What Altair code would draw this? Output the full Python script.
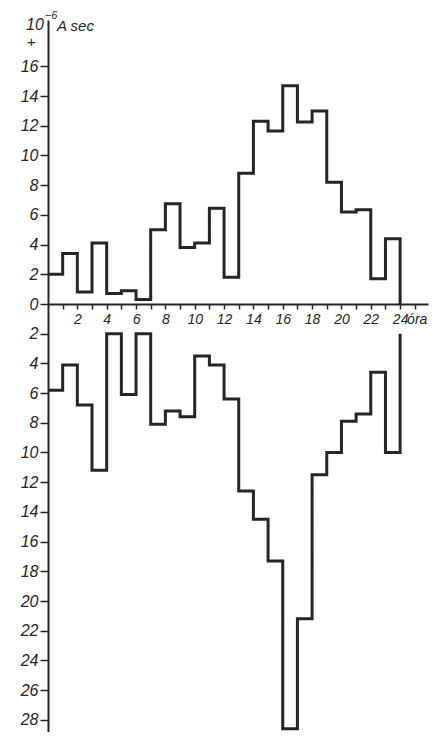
import altair as alt
import pandas as pd

# hour boundaries (step starts), last entry = closing edge at 24 h
hours = list(range(25))
# upper histogram (+), 10^-6 A sec per hour
upper = [2.0, 3.4, 0.8, 4.1, 0.7, 0.9, 0.3, 5.0, 6.75, 3.8, 4.1, 6.45,
         1.8, 8.8, 12.3, 11.65, 14.7, 12.25, 13.0, 8.2, 6.2, 6.35, 1.7, 4.4, 0.0]
# lower histogram (-), drawn downward
lower = [5.8, 4.1, 6.8, 11.2, 2.0, 6.1, 2.0, 8.1, 7.2, 7.6, 3.5, 4.1,
         6.4, 12.6, 14.5, 17.3, 28.6, 21.2, 11.5, 10.0, 7.9, 7.4, 4.6, 10.0, 2.0]

y_ticks_up = [0, 2, 4, 6, 8, 10, 12, 14, 16]
y_ticks_down = [2, 4, 6, 8, 10, 12, 14, 16, 18, 20, 22, 24, 26, 28]
x_ticks = list(range(1, 26))
x_unit = "óra"

FONT = "'Liberation Sans Narrow', 'Liberation Sans', sans-serif"
INK = "#262626"

W, H = 380, 712
PX_PER_UNIT = 14.85
ZERO_PX = 284
y_max = ZERO_PX / PX_PER_UNIT
y_min = -(H - ZERO_PX) / PX_PER_UNIT

rows = []
for i, h in enumerate(hours):
    rows.append({"hour": h, "value": upper[i], "series": "plus", "i": i})
for i, h in enumerate(hours):
    rows.append({"hour": h, "value": -lower[i], "series": "minus", "i": i})
df = pd.DataFrame(rows)

x_scale = alt.Scale(domain=[0, 25.9], nice=False, zero=False)
y_scale = alt.Scale(domain=[y_min, y_max], nice=False, zero=False)

y_vals = [-v for v in y_ticks_down] + y_ticks_up

x_axis = alt.Axis(values=x_ticks, offset=-(H - ZERO_PX), title=None,
                  labelExpr="(datum.value % 2 == 0 && datum.value <= 24) ? datum.label : ''",
                  labelOverlap=False,
                  grid=False, domainColor=INK, domainWidth=2,
                  tickColor=INK, tickWidth=1.5, tickSize=5,
                  labelFont=FONT, labelFontSize=14, labelFontStyle="italic",
                  labelColor=INK, labelPadding=3, labelFlush=False)
y_axis = alt.Axis(values=y_vals, title=None, grid=False,
                  labelExpr="'' + abs(datum.value)",
                  labelOverlap=False,
                  domainColor=INK, domainWidth=2,
                  tickColor=INK, tickWidth=1.5, tickSize=8,
                  labelFont=FONT, labelFontSize=16, labelFontStyle="italic",
                  labelColor=INK, labelPadding=2, labelFlush=False)

lines = alt.Chart(df).mark_line(
    interpolate="step-after", color=INK, strokeWidth=3, strokeJoin="miter"
).encode(
    x=alt.X("hour:Q", scale=x_scale, axis=x_axis),
    y=alt.Y("value:Q", scale=y_scale, axis=y_axis),
    detail="series:N",
    order="i:Q",
)

unit_df = pd.DataFrame({"t": [x_unit], "hour": [hours[-1]], "value": [upper[-1]]})
unit = alt.Chart(unit_df).mark_text(
    align="left", baseline="middle", dx=7, dy=16, font=FONT, fontSize=14,
    fontStyle="italic", color=INK
).encode(
    x=alt.X("hour:Q", scale=x_scale, axis=x_axis),
    y=alt.Y("value:Q", scale=y_scale, axis=y_axis),
    text="t:N",
)

def ann(txt, px, py, size, align="center"):
    return alt.Chart(pd.DataFrame({"t": [txt]})).mark_text(
        align=align, baseline="middle", font=FONT, fontSize=size,
        fontStyle="italic", color=INK
    ).encode(x=alt.value(px), y=alt.value(py), text="t:N")

title_parts = (ann("10", -13, 5, 16) + ann("−6", 3, -4, 11)
               + ann("A sec", 9, 6, 15, "left") + ann("+", -17, 22, 15))

chart = alt.layer(lines, unit, title_parts).properties(
    width=W, height=H,
    autosize=alt.AutoSizeParams(type="none"),
    padding={"left": 40, "top": 12, "right": 4, "bottom": 0},
    background="white",
).configure_view(stroke=None).configure_axis(labelOverlap=False)

chart.save("out.html", embed_options={"renderer": "svg", "actions": False})
